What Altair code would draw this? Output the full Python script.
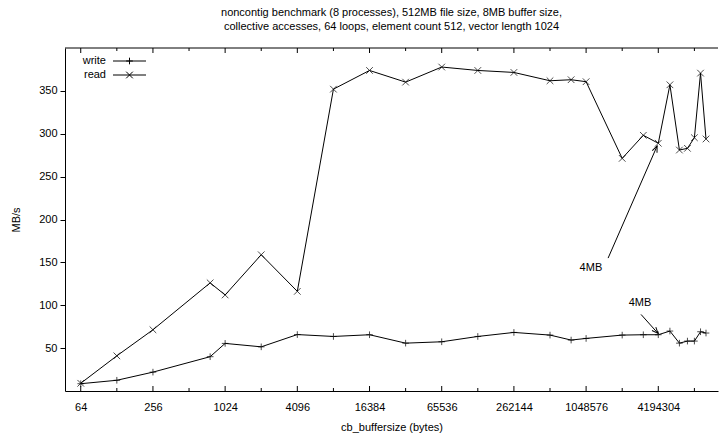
import math
import altair as alt
import pandas as pd

# plot area size in pixels
W, H = 653, 343

# collective buffer sizes in bytes
buffer_sizes = [64, 128, 256, 768, 1024, 2048, 4096, 8192, 16384, 32768, 65536,
                131072, 262144, 524288, 786432, 1048576, 2097152, 3145728,
                4194304, 5242880, 6291456, 7340032, 8388608, 9437184, 10485760]
write_mbs = [8.5, 12.5, 22, 40, 55.5, 51.5, 65.8, 63.6, 65.6, 55.8, 57.4, 63.6,
             68.3, 65.2, 59.4, 61.3, 65.2, 65.6, 65.6, 69.9, 55.8, 58.2, 58.2,
             69.1, 67.6]
read_mbs = [9, 41, 71.4, 126.1, 112, 158.9, 116.2, 352, 373.8, 360.2, 377.8,
            373.8, 371.5, 361.8, 363, 360.7, 271.3, 298.2, 288.9, 357.1, 281,
            283, 295.4, 370.7, 293.9]

major_ticks = [64, 256, 1024, 4096, 16384, 65536, 262144, 1048576, 4194304]
minor_ticks = [128, 512, 2048, 8192, 32768, 131072, 524288, 2097152, 8388608]
y_ticks = [50, 100, 150, 200, 250, 300, 350]

x_domain = [47.3, 13.2e6]
y_domain = [0, 400]

# "4MB" call-outs: label position, arrow tail and arrow head
note_label = ["4MB", "4MB"]
note_x = [1.15e6, 2.955e6]
note_y = [143.4, 102.2]
tail_x = [1.6e6, 3.01e6]
tail_y = [155, 89.3]
head_x = [4.1e6, 4.17e6]
head_y = [285.7, 67.2]

FONT = "Liberation Sans"
PLUS = "M-1,0L1,0M0,-1L0,1"
CROSS = "M-1,-1L1,1M-1,1L1,-1"
ARROW = "M-1,-0.42L0,0L-1,0.42"

xscale = alt.Scale(type="log", base=2, domain=x_domain, nice=False)
yscale = alt.Scale(domain=y_domain, nice=False, zero=False)


def to_px(x, y):
    lo, hi = math.log2(x_domain[0]), math.log2(x_domain[1])
    return W * (math.log2(x) - lo) / (hi - lo), H * (1 - y / y_domain[1])


angles = []
for tx, ty, hx, hy in zip(tail_x, tail_y, head_x, head_y):
    ax, ay = to_px(tx, ty)
    bx, by = to_px(hx, hy)
    angles.append(math.degrees(math.atan2(by - ay, bx - ax)) % 360)

long = pd.DataFrame({
    "size": buffer_sizes * 2,
    "series": ["write"] * len(buffer_sizes) + ["read"] * len(buffer_sizes),
    "MBs": write_mbs + read_mbs,
})

notes = pd.DataFrame({
    "label": note_label, "lx": note_x, "ly": note_y,
    "tx": tail_x, "ty": tail_y, "hx": head_x, "hy": head_y, "angle": angles,
})

base = alt.Chart(long)

lines = base.mark_line(color="black", strokeWidth=1).encode(
    x=alt.X("size:Q", scale=xscale,
            axis=alt.Axis(values=major_ticks, format="d", tickSize=0,
                          labelPadding=10, labelFlush=False,
                          domainColor="black", domainWidth=1,
                          title="cb_buffersize (bytes)", titlePadding=9)),
    y=alt.Y("MBs:Q", scale=yscale,
            axis=alt.Axis(values=y_ticks, tickSize=5, tickColor="black",
                          labelPadding=3, domainColor="black", domainWidth=1,
                          title="MB/s", titleX=-44, titleY=H / 2)),
    detail="series:N",
)

points = base.mark_point(filled=False, strokeWidth=1, size=44).encode(
    x=alt.X("size:Q", scale=xscale),
    y=alt.Y("MBs:Q", scale=yscale),
    shape=alt.Shape("series:N",
                    scale=alt.Scale(domain=["write", "read"], range=[PLUS, CROSS]),
                    legend=None),
    color=alt.value("black"),
)

# inward ticks on the bottom and mirrored top border
def tick_layer(values, y0, y1):
    return alt.Chart(pd.DataFrame({"size": values})).mark_rule(
        color="black", strokeWidth=1).encode(
        x=alt.X("size:Q", scale=xscale),
        y=alt.value(y0), y2=alt.value(y1))

ticks = [
    tick_layer(major_ticks, H, H - 5), tick_layer(minor_ticks, H, H - 3),
    tick_layer(major_ticks, 0, 5), tick_layer(minor_ticks, 0, 3),
]

top_border = alt.Chart(pd.DataFrame({"a": [0]})).mark_rule(
    color="black", strokeWidth=1).encode(
    x=alt.value(0), x2=alt.value(W), y=alt.value(0))

note_base = alt.Chart(notes)
note_text = note_base.mark_text(font=FONT, fontSize=11, color="black",
                                baseline="middle", align="center").encode(
    x=alt.X("lx:Q", scale=xscale),
    y=alt.Y("ly:Q", scale=yscale),
    text="label:N",
)
shafts = note_base.mark_rule(color="black", strokeWidth=1).encode(
    x=alt.X("tx:Q", scale=xscale),
    y=alt.Y("ty:Q", scale=yscale),
    x2="hx:Q", y2="hy:Q",
)
heads = note_base.mark_point(shape=ARROW, filled=False, strokeWidth=1,
                             size=150, color="black", opacity=1).encode(
    x=alt.X("hx:Q", scale=xscale),
    y=alt.Y("hy:Q", scale=yscale),
    angle=alt.Angle("angle:Q", scale=None),
)

# key in the upper left corner: label, line sample, marker
def key_entry(name, shape, ypix):
    d = alt.Chart(pd.DataFrame({"name": [name]}))
    label = d.mark_text(font=FONT, fontSize=11, color="black", align="right",
                        baseline="middle").encode(
        x=alt.value(41), y=alt.value(ypix), text="name:N")
    sample = d.mark_rule(color="black", strokeWidth=1).encode(
        x=alt.value(48), x2=alt.value(81), y=alt.value(ypix))
    marker = d.mark_point(shape=shape, filled=False, strokeWidth=1, size=44,
                          color="black", opacity=1).encode(
        x=alt.value(64.5), y=alt.value(ypix))
    return [label, sample, marker]

key = key_entry("write", PLUS, 13) + key_entry("read", CROSS, 27)

chart = alt.layer(
    lines, points, *ticks, top_border, shafts, heads, note_text, *key
).properties(
    width=W, height=H,
    title=alt.TitleParams(
        ["noncontig benchmark (8 processes), 512MB file size, 8MB buffer size,",
         "collective accesses, 64 loops, element count 512, vector length 1024"],
        font=FONT, fontSize=11, fontWeight="normal", color="black",
        lineHeight=14, offset=16, anchor="middle"),
    padding={"left": 65, "top": 48, "right": 1, "bottom": 42},
    autosize="none",
).configure_view(stroke=None).configure_axis(
    grid=False, labelFont=FONT, labelFontSize=11, labelColor="black",
    titleFont=FONT, titleFontSize=11, titleFontWeight="normal",
    titleColor="black",
)

chart.save("out.html", embed_options={"renderer": "svg", "actions": False})
